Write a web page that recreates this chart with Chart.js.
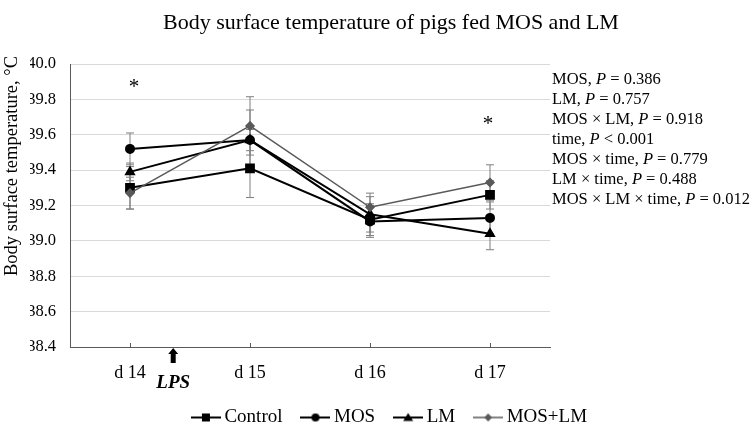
<!DOCTYPE html>
<html>
<head>
<meta charset="utf-8">
<script src="https://cdn.jsdelivr.net/npm/chart.js@4/dist/chart.umd.min.js"></script>
<style>
  html, body { margin: 0; padding: 0; background: #fff; }
  #wrap { width: 754px; height: 428px; }
</style>
</head>
<body>
<div id="wrap"><canvas id="tempChart" width="754" height="428"></canvas></div>
<script>
// data
const days = ['d 14', 'd 15', 'd 16', 'd 17'];
const controlVals = [39.30, 39.41, 39.12, 39.26];
const mosVals = [39.52, 39.57, 39.11, 39.13];
const lmVals = [39.39, 39.57, 39.15, 39.04];
const mosLmVals = [39.27, 39.65, 39.19, 39.33];
// standard errors (half length of the error bars)
const controlSe = [0.12, 0.165, 0.09, 0.08];
const mosSe = [0.09, 0.17, 0.09, 0.09];
const lmSe = [0.05, 0.06, 0.10, 0.09];
const mosLmSe = [0.09, 0.165, 0.08, 0.10];
const yTicks = [38.4, 38.6, 38.8, 39.0, 39.2, 39.4, 39.6, 39.8, 40.0];
// significance marks: day index and height
const starDays = [0, 3];
const starVals = [39.89, 39.68];
const pLabels = ['MOS', 'LM', 'MOS \u00d7 LM', 'time', 'MOS \u00d7 time', 'LM \u00d7 time', 'MOS \u00d7 LM \u00d7 time'];
const pValues = ['= 0.386', '= 0.757', '= 0.918', '< 0.001', '= 0.779', '= 0.488', '= 0.012'];
const lpsPos = 0.36; // between d 14 and d 15

const serif = '"Liberation Serif", "Times New Roman", serif';
const black = '#000000';
const grey = '#595959';

// small legend icons: line with the marker in the middle
function legendIcon(color, style, lw) {
    const c = document.createElement('canvas');
    c.width = 30; c.height = 14;
    const g = c.getContext('2d');
    g.strokeStyle = color; g.fillStyle = color; g.lineWidth = lw;
    g.beginPath(); g.moveTo(0, 7); g.lineTo(30, 7); g.stroke();
    g.beginPath();
    if (style === 'rect') g.rect(11, 3, 8, 8);
    else if (style === 'circle') g.arc(15, 7, 4, 0, Math.PI * 2);
    else if (style === 'triangle') { g.moveTo(15, 2.5); g.lineTo(20, 10.5); g.lineTo(10, 10.5); g.closePath(); }
    else { g.moveTo(15, 3); g.lineTo(19, 7); g.lineTo(15, 11); g.lineTo(11, 7); g.closePath(); }
    g.fill();
    return c;
}

const seList = [controlSe, mosSe, lmSe, mosLmSe];

const extrasPlugin = {
    id: 'extras',
    beforeDatasetsDraw(chart) {
        const ctx = chart.ctx;
        const xs = chart.scales.x, ys = chart.scales.y;
        ctx.save();
        // tick marks on the category axis point into the plot
        ctx.strokeStyle = grey;
        ctx.lineWidth = 1;
        days.forEach((d, j) => {
            const x = Math.round(xs.getPixelForValue(j)) + 0.5;
            ctx.beginPath();
            ctx.moveTo(x, chart.chartArea.bottom);
            ctx.lineTo(x, chart.chartArea.bottom - 4);
            ctx.stroke();
        });
        // error bars
        ctx.strokeStyle = '#7f7f7f';
        chart.data.datasets.forEach((ds, i) => {
            ds.data.forEach((v, j) => {
                const x = xs.getPixelForValue(j);
                const top = ys.getPixelForValue(v + seList[i][j]);
                const bot = ys.getPixelForValue(v - seList[i][j]);
                ctx.beginPath();
                ctx.moveTo(x, top); ctx.lineTo(x, bot);
                ctx.moveTo(x - 4, top); ctx.lineTo(x + 4, top);
                ctx.moveTo(x - 4, bot); ctx.lineTo(x + 4, bot);
                ctx.stroke();
            });
        });
        ctx.restore();
    },
    afterDraw(chart) {
        const ctx = chart.ctx;
        const xs = chart.scales.x, ys = chart.scales.y;
        ctx.save();
        ctx.fillStyle = black;

        // title
        ctx.font = '22px ' + serif;
        ctx.textAlign = 'center';
        ctx.textBaseline = 'middle';
        ctx.fillText('Body surface temperature of pigs fed MOS and LM', 391, 23);

        // y axis title
        ctx.save();
        ctx.translate(12, 166);
        ctx.rotate(-Math.PI / 2);
        ctx.font = '18.5px ' + serif;
        ctx.fillText('Body surface temperature, \u00b0C', 0, 0);
        ctx.restore();

        // asterisks
        ctx.font = '21px ' + serif;
        starDays.forEach((d, i) => {
            const dx = i === 0 ? 4 : -2;
            ctx.fillText('*', xs.getPixelForValue(d) + dx, ys.getPixelForValue(starVals[i]) + 4);
        });

        // LPS arrow
        const ax = xs.getPixelForValue(lpsPos);
        const ay = chart.chartArea.bottom + 1;
        ctx.beginPath();
        ctx.moveTo(ax, ay);
        ctx.lineTo(ax + 5, ay + 6);
        ctx.lineTo(ax + 2.5, ay + 6);
        ctx.lineTo(ax + 2.5, ay + 15);
        ctx.lineTo(ax - 2.5, ay + 15);
        ctx.lineTo(ax - 2.5, ay + 6);
        ctx.lineTo(ax - 5, ay + 6);
        ctx.closePath();
        ctx.fill();
        ctx.font = 'italic bold 19px ' + serif;
        ctx.fillText('LPS', ax, 383);

        // P values
        ctx.textAlign = 'left';
        pLabels.forEach((lab, i) => {
            const y = 80 + i * 20;
            let x = 552;
            ctx.font = '16.5px ' + serif;
            const head = lab + ', ';
            ctx.fillText(head, x, y);
            x += ctx.measureText(head).width;
            ctx.font = 'italic 16.5px ' + serif;
            ctx.fillText('P', x, y);
            x += ctx.measureText('P ').width;
            ctx.font = '16.5px ' + serif;
            ctx.fillText(pValues[i], x, y);
        });
        ctx.restore();
    }
};

const ctx = document.getElementById('tempChart').getContext('2d');
const chart = new Chart(ctx, {
    type: 'line',
    data: {
        labels: days,
        datasets: [
            {
                label: 'Control', data: controlVals,
                borderColor: black, backgroundColor: black, borderWidth: 2,
                pointStyle: 'rect', pointRadius: 5.5, order: 2,
                legendIcon: legendIcon(black, 'rect', 2)
            },
            {
                label: 'MOS', data: mosVals,
                borderColor: black, backgroundColor: black, borderWidth: 2,
                pointStyle: 'circle', pointRadius: 4, order: 3,
                legendIcon: legendIcon(black, 'circle', 2)
            },
            {
                label: 'LM', data: lmVals,
                borderColor: black, backgroundColor: black, borderWidth: 2,
                pointStyle: 'triangle', pointRadius: 4.5, order: 4,
                legendIcon: legendIcon(black, 'triangle', 2)
            },
            {
                label: 'MOS+LM', data: mosLmVals,
                borderColor: grey, backgroundColor: grey, borderWidth: 1.5,
                pointStyle: 'rectRot', pointRadius: 4, order: 1,
                legendIcon: legendIcon(grey, 'diamond', 1.5)
            }
        ]
    },
    options: {
        responsive: false,
        animation: false,
        layout: { padding: { left: 30, right: 0, top: 64, bottom: -9 } },
        elements: { line: { tension: 0 } },
        plugins: {
            title: { display: false },
            tooltip: { enabled: false },
            legend: {
                position: 'bottom',
                labels: {
                    usePointStyle: true,
                    pointStyleWidth: 18,
                    padding: 24,
                    color: black,
                    font: { family: serif, size: 19 },
                    generateLabels(chart) {
                        return chart.data.datasets.map((ds, i) => ({
                            text: ds.label,
                            pointStyle: ds.legendIcon,
                            fillStyle: ds.backgroundColor,
                            strokeStyle: ds.borderColor,
                            lineWidth: 0,
                            hidden: false,
                            datasetIndex: i
                        }));
                    }
                }
            }
        },
        scales: {
            x: {
                offset: true,
                afterFit(scale) { scale.height = 37; },
                grid: { offset: false, drawOnChartArea: false, tickLength: 5, color: 'rgba(0,0,0,0)' },
                border: { color: grey, width: 1 },
                ticks: { color: black, padding: 10, font: { family: serif, size: 18 } }
            },
            y: {
                min: yTicks[0], max: yTicks[yTicks.length - 1],
                afterFit(scale) { scale.width = 40; },
                afterBuildTicks(scale) { scale.ticks = yTicks.map(v => ({ value: v })); },
                grid: { color: '#d9d9d9', drawTicks: false, lineWidth: 1 },
                border: { color: grey, width: 1 },
                ticks: {
                    color: black, padding: 14,
                    font: { family: serif, size: 16.5 },
                    callback: v => Number(v).toFixed(1)
                }
            },
            yRight: {
                position: 'right',
                afterFit(scale) { scale.width = 204; },
                grid: { display: false },
                border: { display: false },
                ticks: { display: false }
            }
        }
    },
    plugins: [extrasPlugin]
});
</script>
</body>
</html>
